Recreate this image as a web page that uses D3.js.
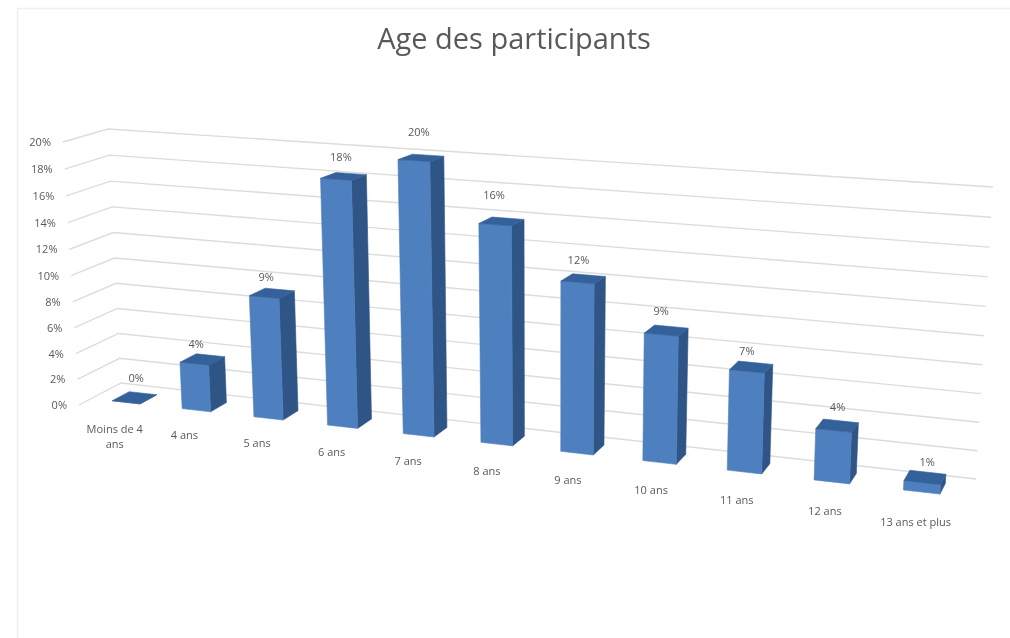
<!DOCTYPE html>
<html>
<head>
<meta charset="utf-8">
<script src="https://cdn.jsdelivr.net/npm/d3@7"></script>
<style>
  html, body { margin: 0; padding: 0; background: #fff; }
  svg { display: block; filter: blur(0.35px); }
  text { font-family: "Open Sans", "Noto Sans", sans-serif; fill: #595959; }
</style>
</head>
<body>
<div id="chart"></div>
<script>
// data
var categories = ['Moins de 4 ans', '4 ans', '5 ans', '6 ans', '7 ans', '8 ans', '9 ans', '10 ans', '11 ans', '12 ans', '13 ans et plus'];
var values = [0, 3.6, 9.2, 18.25, 19.95, 15.85, 12.25, 9.1, 7.1, 3.6, 0.65];
var yTicks = [0, 2, 4, 6, 8, 10, 12, 14, 16, 18, 20];
var title = 'Age des participants';

var attrs = {
  svgWidth: 1010,
  svgHeight: 638,
  // corners of the 3d box on screen: [t=0 v=0], [t=1 v=0], [t=1 v=1], [t=0 v=1]
  backWall: [[121, 383], [976, 479], [993, 187], [108, 129]],
  frontPlane: [[79, 405], [964, 505], [979, 201], [63, 142]],
  barFront: 0.7,
  barBack: 0.29,
  gridColor: '#dcdcdc',
  frontColor: '#4e7fbe',
  sideColor: '#2f5586',
  topColor: '#35619a',
  // value labels were nudged by hand in the original
  labelDx: [9, 1, 1, 4, 4, -2, 0, -1, -1, 3, 4],
  labelDy: [0, 4, 4, 2, -5, -6, 2, 0, 4, 1, 3]
};

// unit square to quad homography
function quadMap(q) {
  var x0 = q[0][0], y0 = q[0][1], x1 = q[1][0], y1 = q[1][1];
  var x2 = q[2][0], y2 = q[2][1], x3 = q[3][0], y3 = q[3][1];
  var dx1 = x1 - x2, dx2 = x3 - x2, sx = x0 - x1 + x2 - x3;
  var dy1 = y1 - y2, dy2 = y3 - y2, sy = y0 - y1 + y2 - y3;
  var den = dx1 * dy2 - dx2 * dy1;
  var g = (sx * dy2 - dx2 * sy) / den;
  var h = (dx1 * sy - sx * dy1) / den;
  var a = x1 - x0 + g * x1, b = x3 - x0 + h * x3;
  var d = y1 - y0 + g * y1, e = y3 - y0 + h * y3;
  return function (u, v) {
    var w = g * u + h * v + 1;
    return [(a * u + b * v + x0) / w, (d * u + e * v + y0) / w];
  };
}

var backMap = quadMap(attrs.backWall);
var frontMap = quadMap(attrs.frontPlane);

// t along the categories, value on the y scale, depth 0 = back wall, 1 = front
var scales = {};
scales.x = d3.scaleBand().domain(categories).range([0, 1]).paddingInner(0.6).paddingOuter(0.3);
scales.y = d3.scaleLinear().domain([0, 20]).range([0, 1]);

function project(t, value, depth) {
  var b = backMap(t, scales.y(value));
  var f = frontMap(t, scales.y(value));
  return [b[0] + (f[0] - b[0]) * depth, b[1] + (f[1] - b[1]) * depth];
}

var svg = d3.select('#chart').append('svg')
  .attr('width', attrs.svgWidth)
  .attr('height', attrs.svgHeight);

// pale frame of the screenshot
svg.append('path')
  .attr('d', 'M17.5,' + attrs.svgHeight + 'V8.5H' + attrs.svgWidth)
  .attr('fill', 'none')
  .attr('stroke', '#efefef')
  .attr('stroke-width', 1.5);

svg.append('text')
  .attr('x', 514)
  .attr('y', 49)
  .attr('text-anchor', 'middle')
  .style('font-size', '29px')
  .text(title);

// gridlines on side wall and back wall
var line = d3.line();
svg.append('g').selectAll('path')
  .data(yTicks)
  .join('path')
  .attr('d', function (d) {
    return line([project(0, d, 1), project(0, d, 0), project(1, d, 0)]);
  })
  .attr('fill', 'none')
  .attr('stroke', attrs.gridColor)
  .attr('stroke-width', 1.4);

// y tick labels
svg.append('g').selectAll('text')
  .data(yTicks)
  .join('text')
  .attr('x', function (d) { return project(0, d, 1)[0] - 12; })
  .attr('y', function (d) { return project(0, d, 1)[1] + 4; })
  .attr('text-anchor', 'end')
  .style('font-size', '11px')
  .text(function (d) { return d + '%'; });

// bars
var data = categories.map(function (c, i) { return { cat: c, value: values[i], idx: i }; });
var bars = svg.append('g').selectAll('g')
  .data(data)
  .join('g');

function face(d, points) {
  var t0 = scales.x(d.cat), t1 = t0 + scales.x.bandwidth();
  return line(points.map(function (p) {
    return project(p[0] ? t1 : t0, p[1] ? d.value : 0, p[2] ? attrs.barFront : attrs.barBack);
  })) + 'Z';
}

// thin stroke of the same colour closes the seams between faces
function paintFace(color, points) {
  bars.append('path')
    .attr('d', function (d) { return face(d, points); })
    .attr('fill', color)
    .attr('stroke', color)
    .attr('stroke-width', 0.6)
    .attr('stroke-linejoin', 'round');
}

paintFace(attrs.sideColor, [[1, 0, 1], [1, 0, 0], [1, 1, 0], [1, 1, 1]]);
paintFace(attrs.frontColor, [[0, 0, 1], [1, 0, 1], [1, 1, 1], [0, 1, 1]]);
paintFace(attrs.topColor, [[0, 1, 1], [1, 1, 1], [1, 1, 0], [0, 1, 0]]);

// value labels
var pct = d3.format('.0%');
function barCenter(d) { return scales.x(d.cat) + scales.x.bandwidth() / 2; }

svg.append('g').selectAll('text')
  .data(data)
  .join('text')
  .attr('x', function (d) { return project(barCenter(d), d.value, attrs.barFront)[0] + 1 + attrs.labelDx[d.idx]; })
  .attr('y', function (d) { return project(barCenter(d), d.value, attrs.barFront)[1] - 20 + attrs.labelDy[d.idx]; })
  .attr('text-anchor', 'middle')
  .style('font-size', '11px')
  .text(function (d) { return pct(d.value / 100); });

// category labels drift a bit further from the floor towards the right
var labelDrop = d3.scaleLinear().domain([0, 1]).range([21, 26]);
var labelShift = d3.scaleLinear().domain([0, 1]).range([0, -2]);

var catLabels = svg.append('g').selectAll('text')
  .data(data)
  .join('text')
  .attr('transform', function (d) {
    var t = barCenter(d);
    var p = project(t, 0, 1);
    return 'translate(' + (p[0] + labelShift(t)) + ',' + (p[1] + labelDrop(t)) + ')';
  })
  .attr('text-anchor', 'middle')
  .style('font-size', '11px');

// first one wraps on two lines like the original
catLabels.each(function (d) {
  var el = d3.select(this);
  if (d.cat === 'Moins de 4 ans') {
    el.append('tspan').attr('x', 1).attr('y', 3).text('Moins de 4');
    el.append('tspan').attr('x', 1).attr('y', 18).text('ans');
  } else {
    el.text(d.cat);
  }
});
</script>
</body>
</html>
